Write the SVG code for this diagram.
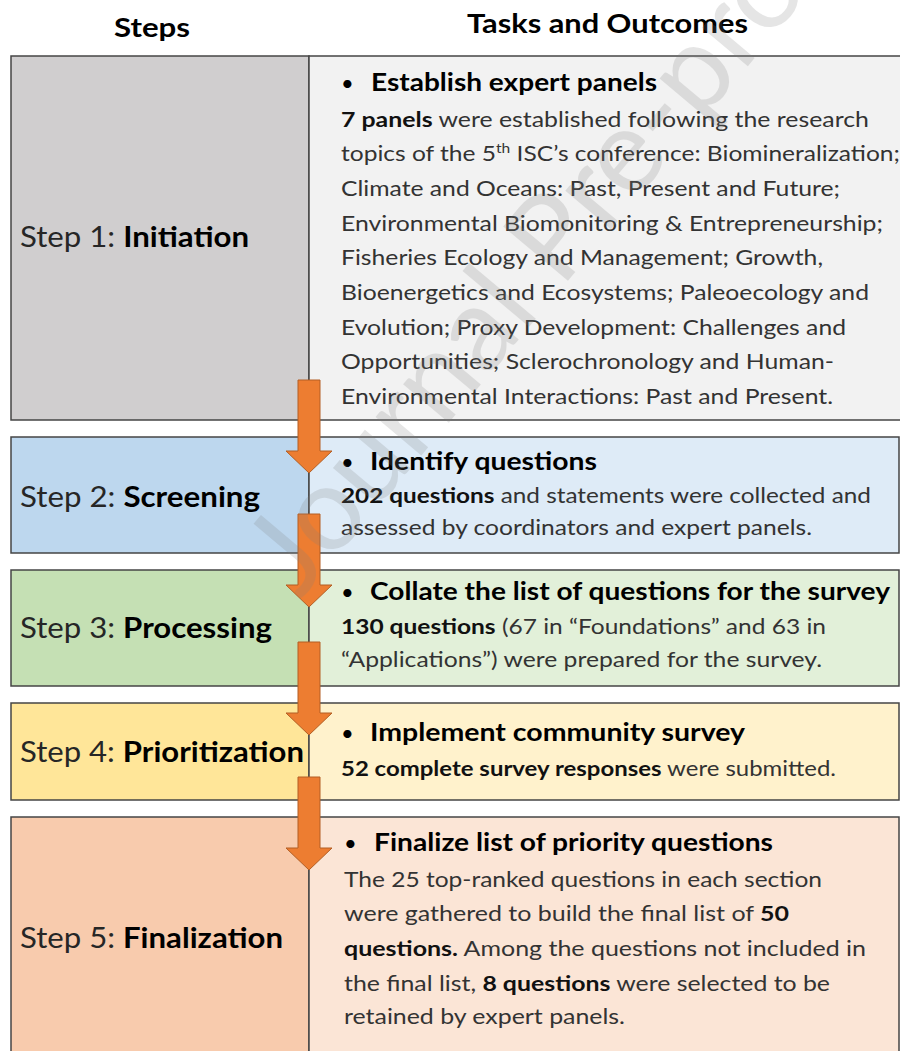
<svg xmlns="http://www.w3.org/2000/svg" width="900" height="1051" viewBox="0 0 900 1051">
  <style>
    text { font-family: Lato, "Open Sans", "Liberation Sans", sans-serif; }
    .hdr { font-size: 26px; font-weight: 700; fill: #000; }
    .step { font-size: 28px; fill: #262626; }
    .step .b { font-weight: 700; fill: #000; }
    .task { font-size: 24px; font-weight: 700; fill: #000; }
    .dot { font-size: 22px; fill: #000; }
    .body { font-size: 20.5px; fill: #333; }
    .body .b { font-weight: 700; fill: #111; }
    .cell { stroke: #454545; stroke-width: 1.5; }
    .arrow { fill: #ed7d31; stroke: #b35f24; stroke-width: 1; }
    .mark { font-size: 118px; fill: #7f7f7f; opacity: 0.2; }
  </style>
  <defs>
    <polygon id="down" class="arrow" points="298,0 320,0 320,71 332,71 309,93 286,71 298,71"/>
  </defs>
  <rect width="900" height="1051" fill="#fff"/>

  <!-- column headers -->
  <text class="hdr" x="114" y="37" textLength="76" lengthAdjust="spacingAndGlyphs">Steps</text>
  <text class="hdr" x="467" y="33" textLength="281" lengthAdjust="spacingAndGlyphs">Tasks and Outcomes</text>

  <!-- step 1 -->
  <g id="step1">
    <rect class="cell" x="11" y="56" width="298" height="364" fill="#d0cecf"/>
    <rect class="cell" x="309" y="56" width="595" height="364" fill="#f2f2f2"/>
    <text class="step" x="20" y="247" textLength="229" lengthAdjust="spacingAndGlyphs">Step 1: <tspan class="b">Initiation</tspan></text>
    <text class="dot" x="341" y="91">•</text>
    <text class="task" x="371" y="91" textLength="286" lengthAdjust="spacingAndGlyphs">Establish expert panels</text>
    <text class="body" x="341" y="127" textLength="528" lengthAdjust="spacingAndGlyphs"><tspan class="b">7 panels</tspan> were established following the research</text>
    <text class="body" x="341" y="161" textLength="559" lengthAdjust="spacingAndGlyphs">topics of the 5<tspan font-size="13" dy="-8">th</tspan><tspan dy="8"> ISC’s conference: Biomineralization;</tspan></text>
    <text class="body" x="341" y="196" textLength="499" lengthAdjust="spacingAndGlyphs">Climate and Oceans: Past, Present and Future;</text>
    <text class="body" x="341" y="231" textLength="542" lengthAdjust="spacingAndGlyphs">Environmental Biomonitoring &amp; Entrepreneurship;</text>
    <text class="body" x="341" y="265" textLength="482" lengthAdjust="spacingAndGlyphs">Fisheries Ecology and Management; Growth,</text>
    <text class="body" x="341" y="300" textLength="528" lengthAdjust="spacingAndGlyphs">Bioenergetics and Ecosystems; Paleoecology and</text>
    <text class="body" x="341" y="335" textLength="505" lengthAdjust="spacingAndGlyphs">Evolution; Proxy Development: Challenges and</text>
    <text class="body" x="341" y="369" textLength="493" lengthAdjust="spacingAndGlyphs">Opportunities; Sclerochronology and Human-</text>
    <text class="body" x="341" y="404" textLength="492" lengthAdjust="spacingAndGlyphs">Environmental Interactions: Past and Present.</text>
  </g>

  <!-- step 2 -->
  <g id="step2">
    <rect class="cell" x="11" y="437" width="298" height="116" fill="#bdd7ee"/>
    <rect class="cell" x="309" y="437" width="590" height="116" fill="#deebf7"/>
    <text class="step" x="20" y="507" textLength="240" lengthAdjust="spacingAndGlyphs">Step 2: <tspan class="b">Screening</tspan></text>
    <text class="dot" x="341" y="470">•</text>
    <text class="task" x="370" y="470" textLength="227" lengthAdjust="spacingAndGlyphs">Identify questions</text>
    <text class="body" x="341" y="503" textLength="530" lengthAdjust="spacingAndGlyphs"><tspan class="b">202 questions</tspan> and statements were collected and</text>
    <text class="body" x="341" y="535" textLength="471" lengthAdjust="spacingAndGlyphs">assessed by coordinators and expert panels.</text>
  </g>

  <!-- step 3 -->
  <g id="step3">
    <rect class="cell" x="11" y="570" width="298" height="116" fill="#c5e0b4"/>
    <rect class="cell" x="309" y="570" width="590" height="116" fill="#e2f0d9"/>
    <text class="step" x="20" y="638" textLength="252" lengthAdjust="spacingAndGlyphs">Step 3: <tspan class="b">Processing</tspan></text>
    <text class="dot" x="341" y="600">•</text>
    <text class="task" x="370" y="600" textLength="520" lengthAdjust="spacingAndGlyphs">Collate the list of questions for the survey</text>
    <text class="body" x="341" y="634" textLength="485" lengthAdjust="spacingAndGlyphs"><tspan class="b">130 questions</tspan> (67 in “Foundations” and 63 in</text>
    <text class="body" x="341" y="667" textLength="481" lengthAdjust="spacingAndGlyphs">“Applications”) were prepared for the survey.</text>
  </g>

  <!-- step 4 -->
  <g id="step4">
    <rect class="cell" x="11" y="703" width="298" height="97" fill="#ffe699"/>
    <rect class="cell" x="309" y="703" width="590" height="97" fill="#fff2cc"/>
    <text class="step" x="20" y="762" textLength="284" lengthAdjust="spacingAndGlyphs">Step 4: <tspan class="b">Prioritization</tspan></text>
    <text class="dot" x="341" y="741">•</text>
    <text class="task" x="370" y="741" textLength="375" lengthAdjust="spacingAndGlyphs">Implement community survey</text>
    <text class="body" x="341" y="776" textLength="495" lengthAdjust="spacingAndGlyphs"><tspan class="b">52 complete survey responses</tspan> were submitted.</text>
  </g>

  <!-- step 5 -->
  <g id="step5">
    <rect class="cell" x="11" y="817" width="298" height="250" fill="#f8cbad"/>
    <rect class="cell" x="309" y="817" width="590" height="250" fill="#fbe5d6"/>
    <text class="step" x="20" y="948" textLength="263" lengthAdjust="spacingAndGlyphs">Step 5: <tspan class="b">Finalization</tspan></text>
    <text class="dot" x="344" y="851">•</text>
    <text class="task" x="374" y="851" textLength="399" lengthAdjust="spacingAndGlyphs">Finalize list of priority questions</text>
    <text class="body" x="344" y="887" textLength="478" lengthAdjust="spacingAndGlyphs">The 25 top-ranked questions in each section</text>
    <text class="body" x="344" y="921" textLength="445" lengthAdjust="spacingAndGlyphs">were gathered to build the final list of <tspan class="b">50</tspan></text>
    <text class="body" x="344" y="956" textLength="522" lengthAdjust="spacingAndGlyphs"><tspan class="b">questions.</tspan> Among the questions not included in</text>
    <text class="body" x="344" y="991" textLength="486" lengthAdjust="spacingAndGlyphs">the final list, <tspan class="b">8 questions</tspan> were selected to be</text>
    <text class="body" x="344" y="1024" textLength="281" lengthAdjust="spacingAndGlyphs">retained by expert panels.</text>
  </g>

  <!-- arrows between steps -->
  <g id="connectors">
    <use href="#down" y="380"/>
    <use href="#down" y="514"/>
    <use href="#down" y="642"/>
    <use href="#down" y="777"/>
  </g>

  <!-- overlay stamp -->
  <text class="mark" transform="translate(300,600) rotate(-50)">Journal Pre-proof</text>
</svg>
